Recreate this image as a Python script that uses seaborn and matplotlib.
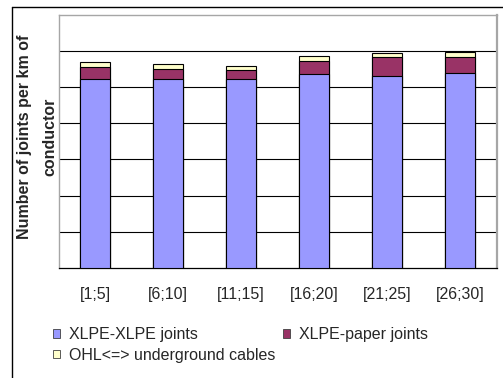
import matplotlib
matplotlib.use("Agg")
import matplotlib.pyplot as plt
from matplotlib.lines import Line2D
from matplotlib.patches import Patch
import numpy as np
import seaborn as sns

# Age classes of the cable network (years)
categories = ["[1;5]", "[6;10]", "[11;15]", "[16;20]", "[21;25]", "[26;30]"]

# Joints per km of conductor, by joint type
xlpe_xlpe = [5.23, 5.23, 5.21, 5.35, 5.30, 5.39]
xlpe_paper = [0.33, 0.27, 0.26, 0.38, 0.52, 0.43]
ohl_underground = [0.14, 0.14, 0.12, 0.13, 0.12, 0.15]

series_names = ["XLPE-XLPE joints", "XLPE-paper joints", "OHL<=> underground cables"]
series_colors = ["#9999FF", "#993366", "#FFFFCC"]

sns.set_style("white")
plt.rcParams["font.family"] = ["Liberation Sans", "DejaVu Sans"]

fig = plt.figure(figsize=(5.03, 3.78), dpi=100)
ax = fig.add_axes([58.7 / 503, 1 - 268 / 378, (496.7 - 58.7) / 503, (268 - 14.7) / 378])

# stacked bars: draw cumulative totals from the top layer down
layers = [xlpe_xlpe, xlpe_paper, ohl_underground]
cum = np.cumsum(np.array(layers), axis=0)
for i in range(len(layers) - 1, -1, -1):
    sns.barplot(x=categories, y=cum[i], color=series_colors[i], saturation=1,
                width=0.41, edgecolor="black", linewidth=0.8, ax=ax, zorder=3)

ax.set_xlim(-0.5, 5.5)
ax.set_ylim(0, 7)
ax.set_yticks(range(1, 7))
ax.set_yticklabels([])
ax.tick_params(axis="y", length=0)
ax.yaxis.grid(True, color="black", linewidth=0.8)
ax.set_axisbelow(True)
ax.set_xlabel("")
ax.set_ylabel("")

ax.set_xticks(range(len(categories)))
ax.set_xticklabels(categories, fontsize=11.5)
ax.set_xticks(np.arange(-0.5, len(categories)), minor=True)
ax.tick_params(axis="x", which="major", length=0, pad=14)
ax.tick_params(axis="x", which="minor", length=5, width=0.8, color="black", direction="out")

for side in ("left", "top"):
    ax.spines[side].set_color("#A6A6A6")
    ax.spines[side].set_linewidth(1.0)
ax.spines["right"].set_color("#A6A6A6")
ax.spines["right"].set_linewidth(1.6)
ax.spines["bottom"].set_color("black")
ax.spines["bottom"].set_linewidth(0.9)

# two-line axis title, each line centred on the plot height
ylabel_lines = ["Number of joints per km of", "conductor"]
for xpix, line in zip((25, 50), ylabel_lines):
    fig.text(xpix / 503, 1 - 137 / 378, line, rotation=90, ha="center", va="center",
             fontsize=11.5, fontweight="bold")

handles = [Patch(facecolor=c, edgecolor="#404040", linewidth=0.6) for c in series_colors]
order = [0, 2, 1]
fig.legend([handles[i] for i in order], [series_names[i] for i in order],
           ncol=2, loc="upper left", bbox_to_anchor=(53 / 503, 1 - 327 / 378),
           frameon=False, fontsize=11.5, handlelength=0.44, handleheight=0.44,
           handletextpad=0.55, columnspacing=0.5, borderpad=0, borderaxespad=0,
           labelspacing=0.35)

# outer frame of the figure
fig.add_artist(Line2D([12 / 503, 1], [1 - 7 / 378, 1 - 7 / 378], color="black", linewidth=1.0))
fig.add_artist(Line2D([12 / 503, 12 / 503], [1 - 7 / 378, 0], color="black", linewidth=1.0))

fig.savefig("out.png", dpi=100)
